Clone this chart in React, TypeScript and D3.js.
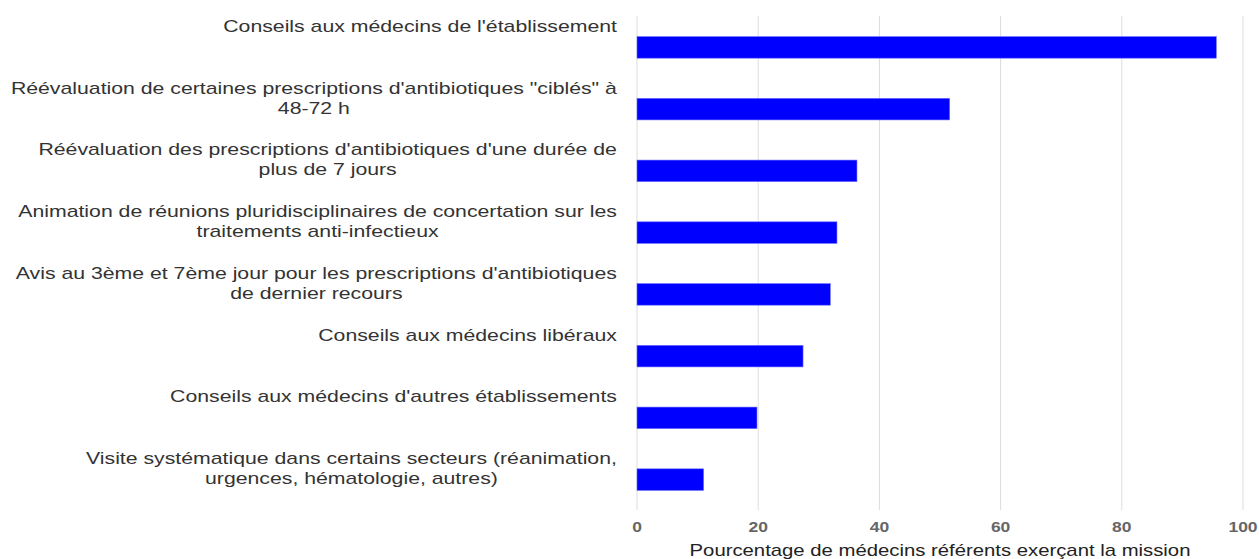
import React from "react";
import * as d3 from "d3";

const categories: string[] = [
  "Conseils aux médecins de l'établissement",
  "Réévaluation de certaines prescriptions d'antibiotiques \"ciblés\" à\n48-72 h",
  "Réévaluation des prescriptions d'antibiotiques d'une durée de\nplus de 7 jours",
  "Animation de réunions pluridisciplinaires de concertation sur les\ntraitements anti-infectieux",
  "Avis au 3ème et 7ème jour pour les prescriptions d'antibiotiques\nde dernier recours",
  "Conseils aux médecins libéraux",
  "Conseils aux médecins d'autres établissements",
  "Visite systématique dans certains secteurs (réanimation,\nurgences, hématologie, autres)",
];
const values: number[] = [95.6, 51.6, 36.3, 33.0, 31.9, 27.4, 19.8, 11.0];
const xTicks: number[] = [0, 20, 40, 60, 80, 100];
const xTitle = "Pourcentage de médecins référents exerçant la mission";

const W = 1259;
const H = 559;
const left = 637;
const right = 1243;
const top = 16;
const bottom = 510;
const SX = 1.25;

export default function App() {
  const x = d3.scaleLinear().domain([0, 100]).range([left, right]);
  const y = d3
    .scaleBand<number>()
    .domain(d3.range(categories.length))
    .range([top, bottom])
    .paddingInner(0.65)
    .paddingOuter(0.325);
  const step = (bottom - top) / categories.length;
  const font = "'Liberation Sans', Arial, sans-serif";
  return (
    <svg
      width={W}
      height={H}
      style={{ position: "absolute", left: 0, top: 0, background: "#fff" }}
    >
      {xTicks.map((t) => (
        <line
          key={"g" + t}
          x1={x(t)}
          x2={x(t)}
          y1={top}
          y2={bottom}
          stroke="#dcdcdc"
          strokeWidth={1}
        />
      ))}
      {values.map((v, i) => (
        <rect
          key={"b" + i}
          x={x(0)}
          y={(y(i) as number) + 0.5}
          width={x(v) - x(0)}
          height={y.bandwidth()}
          fill="#0000ff"
          stroke="#7070ff"
          strokeWidth={0.6}
        />
      ))}
      {categories.map((c, i) => {
        const bandTop = top + i * step;
        const lines = c.split("\n");
        return (
          <text
            key={"l" + i}
            id={"lbl" + i}
            fontFamily={font}
            fontSize={17}
            fill="#333"
            textAnchor="middle"
          >
            {lines.map((ln, j) => (
              <tspan key={j} x={0} y={bandTop + 16 + j * 20}>
                {ln}
              </tspan>
            ))}
          </text>
        );
      })}
      {xTicks.map((t) => (
        <text
          key={"t" + t}
          transform={`translate(${x(t)},0) scale(${SX},1)`}
          x={0}
          y={532}
          textAnchor="middle"
          fontFamily={font}
          fontSize={14}
          fontWeight="bold"
          fill="#666"
        >
          {t}
        </text>
      ))}
      <text
        transform={`translate(${(left + right) / 2},0) scale(1.27,1)`}
        x={0}
        y={556}
        textAnchor="middle"
        fontFamily={font}
        fontSize={16}
        fill="#222"
      >
        {xTitle}
      </text>
      <LabelAligner />
    </svg>
  );
}

// Right-align multi-line labels as blocks with centered lines, right edge at 617
function LabelAligner() {
  React.useLayoutEffect(() => {
    categories.forEach((_, i) => {
      const t = d3.select<SVGTextElement, unknown>("#lbl" + i);
      let maxW = 0;
      t.selectAll<SVGTSpanElement, unknown>("tspan").each(function () {
        maxW = Math.max(maxW, this.getComputedTextLength());
      });
      const cx = 617 - (SX * maxW) / 2;
      t.attr("transform", `translate(${cx},0) scale(${SX},1)`);
    });
  }, []);
  return null;
}
